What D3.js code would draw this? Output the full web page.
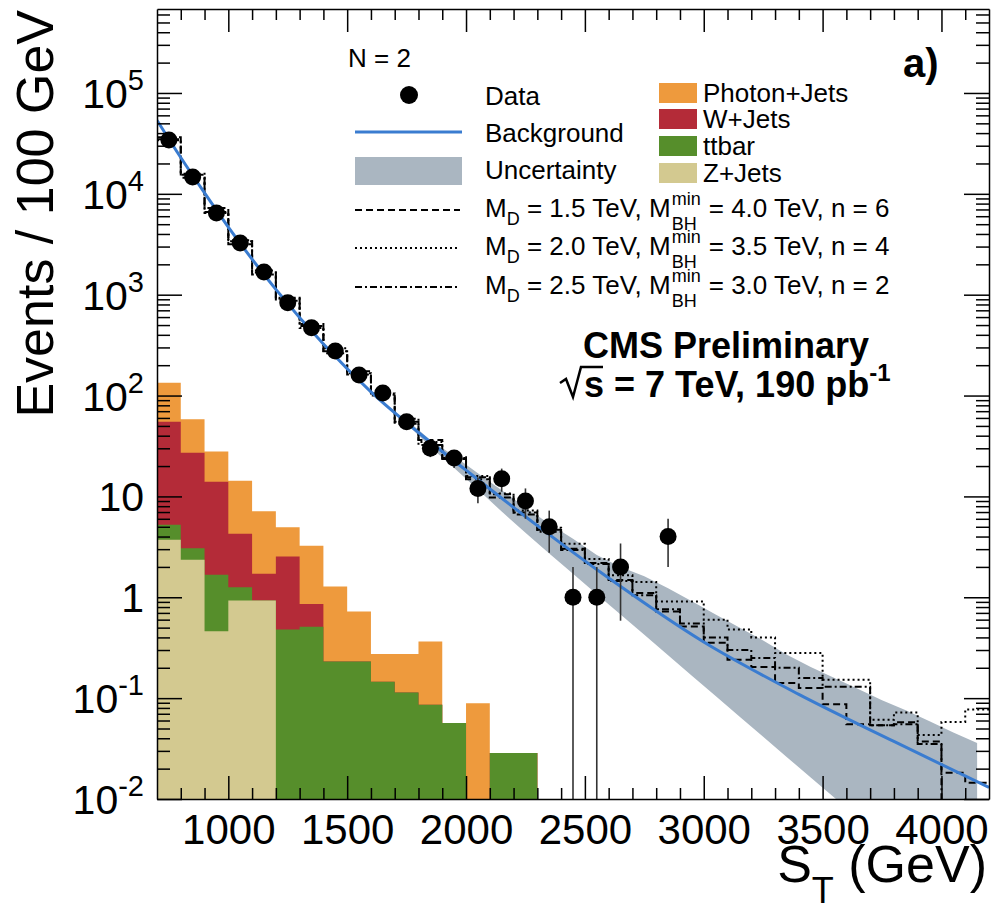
<!DOCTYPE html>
<html><head><meta charset="utf-8">
<script src="https://cdn.jsdelivr.net/npm/d3@7"></script>
<style>
body{margin:0;background:#fff}
text{font-family:"Liberation Sans",Arial,Helvetica,sans-serif}
</style>
</head><body>
<svg id="c" width="992" height="909"></svg>
<script>
// ---------------- data ----------------
const binLow = [700,800,900,1000,1100,1200,1300,1400,1500,1600,1700,1800,1900,2000,2100,2200,2300,2400,2500,2600,2700,2800,2900,3000,3100,3200,3300,3400,3500,3600,3700,3800,3900,4000,4100];
const binWidth = 100;
// stacked backgrounds (bins 700..2300)
const photonJets = [79,31,13.9,10.0,5.4,2.42,2.38,1.05,0.49,0.129,0.16,0.279,0,0.089,0,0];
const wJets      = [49.8,24.1,12.3,3.0,0.78,2.06,0.35,0,0,0,0,0,0,0,0,0];
const ttbar      = [1.52,0.72,1.21,0.33,0,0.48,0.51,0.231,0.231,0.145,0.114,0.086,0.0566,0,0.0286,0.0286];
const zJets      = [3.71,2.35,0.46,0.93,0.93,0,0,0,0,0,0,0,0,0,0,0];
// data counts (bins 700..2800)
const dataCounts = [34200,14700,6470,3260,1680,830,469,277,160,106,55,30,24,12,15,9,5,1,1,2,0,4];
// background fit curve samples
const bgST  = [700,800,900,1000,1200,1400,1600,1800,2000,2300,2600,3000,3400,3800,4200];
const bgVal = [53700,22900,10200,4680,1130,324,109,43,18.2,5.13,1.55,0.36,0.109,0.0372,0.013];
// uncertainty band at bin centres
const bandST    = [1750,1850,1950,2050,2150,2250,2350,2450,2550,2650,2750,2850,2950,3050,3150,3250,3350,3450,3550,3650,3750,3850,3950,4050,4150];
const bandUpper = [57.5,36.3,25.1,17.0,11.5,7.76,5.37,3.80,2.63,2.00,1.62,1.23,0.912,0.676,0.501,0.372,0.269,0.204,0.158,0.123,0.0955,0.0759,0.0589,0.0457,0.0359];
const bandLower = [52.5,30.9,19.1,11.7,7.08,4.37,2.72,1.71,1.07,0.675,0.424,0.266,0.167,0.105,0.0659,0.0414,0.026,0.0163,0.0103,0.0065,0.0041,0.0026,0.0016,0.001,0.00065];
// signal + background histograms
const sigMD15 = [36300,14400,7250,3170,1740,871,513,263,174,100,52.5,36.3,23.5,14.8,10.5,6.6,4.68,3.02,2.19,1.48,1.10,0.724,0.513,0.355,0.240,0.204,0.141,0.126,0.087,0.055,0.0538,0.0576,0.0371,0.0182,0.0145];
const sigMD20 = [33900,15800,6460,3470,1660,912,468,295,166,102,59,34.7,24.5,15.9,10.7,7.24,4.9,3.39,2.40,1.65,1.42,0.91,0.91,0.60,0.48,0.40,0.28,0.28,0.152,0.152,0.061,0.072,0.043,0.058,0.077];
const sigMD25 = [34700,15450,6600,3390,1585,934,490,275,162,105,55,32.4,24,15.5,9.77,6.92,4.47,2.95,2.14,1.45,1.05,0.76,0.55,0.40,0.30,0.25,0.20,0.158,0.13,0.13,0.054,0.055,0.035,0,0];
// ticks
const xMajor = [1000,1500,2000,2500,3000,3500,4000];
const yMajor = [0.01,0.1,1,10,100,1000,1e4,1e5];
const yLabels = [["10","-2"],["10","-1"],["1",""],["10",""],["10","2"],["10","3"],["10","4"],["10","5"]];

// ---------------- layout ----------------
const L=157,R=989,T=9,B=799;
const svg = d3.select('#c');
const x = d3.scaleLinear().domain([700,4200]).range([L,R]);
const y = d3.scaleLog().domain([0.01,6.8e5]).range([B,T]);
const yv = v => v>0 ? y(v) : B+50;

svg.append('defs').append('clipPath').attr('id','clip')
  .append('rect').attr('x',L).attr('y',T).attr('width',R-L).attr('height',B-T);
const plot = svg.append('g').attr('clip-path','url(#clip)');

// stacked histograms (drawn cumulatively, top layer first)
const rows = photonJets.map((_,i)=>({zJets:zJets[i],ttbar:ttbar[i],wJets:wJets[i],photonJets:photonJets[i]}));
const keys = ['zJets','ttbar','wJets','photonJets'];
const colors = {photonJets:'#EE9A3D',wJets:'#B42B38',ttbar:'#568E2B',zJets:'#D3C990'};
const stacked = d3.stack().keys(keys)(rows);
const stepArea = d3.area().curve(d3.curveStepAfter).x(d=>x(d.x)).y0(B+50).y1(d=>yv(d.v));
stacked.slice().reverse().forEach(layer=>{
  const pts = layer.map((d,i)=>({x:binLow[i], v:d[1]}));
  pts.push({x:binLow[layer.length-1]+binWidth, v:layer[layer.length-1][1]});
  plot.append('path').attr('d',stepArea(pts)).attr('fill',colors[layer.key]).attr('stroke','none');
});

// uncertainty band
const band = bandST.map((s,i)=>({s,u:bandUpper[i],l:bandLower[i]}));
plot.append('path')
  .attr('d',d3.area().x(d=>x(d.s)).y0(d=>y(d.l)).y1(d=>y(d.u))(band))
  .attr('fill','#AAB6C1');

// signal histograms
const stepLine = d3.line().curve(d3.curveStepAfter).x(d=>x(d.x)).y(d=>yv(d.v));
function drawSig(vals, dash){
  const pts = vals.map((v,i)=>({x:binLow[i],v}));
  pts.push({x:binLow[vals.length-1]+binWidth, v:vals[vals.length-1]});
  plot.append('path').attr('d',stepLine(pts)).attr('fill','none')
    .attr('stroke','#000').attr('stroke-width',2).attr('stroke-dasharray',dash);
}
drawSig(sigMD20,'2,3');
drawSig(sigMD25,'7,3,2,3');
drawSig(sigMD15,'7,4');

// background curve
plot.append('path')
  .attr('d',d3.line().curve(d3.curveMonotoneX).x((d,i)=>x(bgST[i])).y(d=>y(d))(bgVal))
  .attr('fill','none').attr('stroke','#3A7CD0').attr('stroke-width',3);

// data
const dataPts = dataCounts.map((n,i)=>({x:binLow[i]+binWidth/2, n})).filter(d=>d.n>0);
plot.selectAll('line.err').data(dataPts).enter().append('line')
  .attr('x1',d=>x(d.x)).attr('x2',d=>x(d.x))
  .attr('y1',d=>yv(d.n+Math.sqrt(d.n))).attr('y2',d=>yv(d.n-Math.sqrt(d.n)))
  .attr('stroke','#333').attr('stroke-width',1.6);
plot.selectAll('circle.pt').data(dataPts).enter().append('circle')
  .attr('cx',d=>x(d.x)).attr('cy',d=>y(d.n)).attr('r',8.5).attr('fill','#000');

// ---------------- axes ----------------
const xMinor = binLow.filter(v=>v>700 && !xMajor.includes(v));
const yMinor = [];
yMajor.forEach(m=>{ for(let k=2;k<=9;k++){ const v=m*k; if(v<6.8e5) yMinor.push(v);} });
function styleAxis(g){
  g.selectAll('line,path').attr('stroke','#000').attr('stroke-width',1.5);
  g.attr('font-family','Liberation Sans, Arial, sans-serif');
}
const ax = svg.append('g');
ax.append('g').attr('transform',`translate(0,${B})`)
  .call(d3.axisBottom(x).tickValues(xMajor).tickSize(-23).tickSizeOuter(0).tickPadding(15).tickFormat(d3.format('d')))
  .call(styleAxis).call(g=>g.attr('font-size',42).selectAll('text').attr('fill','#000'));
ax.append('g').attr('transform',`translate(0,${B})`)
  .call(d3.axisBottom(x).tickValues(xMinor).tickSize(-11).tickSizeOuter(0).tickFormat(''))
  .call(styleAxis).call(g=>g.select('.domain').remove());
ax.append('g').attr('transform',`translate(0,${T})`)
  .call(d3.axisTop(x).tickValues(xMajor).tickSize(-23).tickSizeOuter(0).tickFormat(''))
  .call(styleAxis);
ax.append('g').attr('transform',`translate(0,${T})`)
  .call(d3.axisTop(x).tickValues(xMinor).tickSize(-11).tickSizeOuter(0).tickFormat(''))
  .call(styleAxis).call(g=>g.select('.domain').remove());
ax.append('g').attr('transform',`translate(${L},0)`)
  .call(d3.axisLeft(y).tickValues(yMajor).tickSize(-25).tickSizeOuter(0).tickFormat(''))
  .call(styleAxis);
ax.append('g').attr('transform',`translate(${L},0)`)
  .call(d3.axisLeft(y).tickValues(yMinor).tickSize(-13).tickSizeOuter(0).tickFormat(''))
  .call(styleAxis).call(g=>g.select('.domain').remove());
ax.append('g').attr('transform',`translate(${R},0)`)
  .call(d3.axisRight(y).tickValues(yMajor).tickSize(-25).tickSizeOuter(0).tickFormat(''))
  .call(styleAxis);
ax.append('g').attr('transform',`translate(${R},0)`)
  .call(d3.axisRight(y).tickValues(yMinor).tickSize(-13).tickSizeOuter(0).tickFormat(''))
  .call(styleAxis).call(g=>g.select('.domain').remove());

// y tick labels
yMajor.forEach((v,i)=>{
  const t = svg.append('text').attr('x',144).attr('y',y(v)+15).attr('text-anchor','end').attr('font-size',41).attr('fill','#000');
  t.append('tspan').text(yLabels[i][0]);
  if(yLabels[i][1]) t.append('tspan').attr('font-size',29).attr('dy',-18).text(yLabels[i][1]);
});

// axis titles
svg.append('text').attr('transform','translate(53,10) rotate(-90)').attr('text-anchor','end')
  .attr('font-size',52).text('Events / 100 GeV');
const xt = svg.append('text').attr('x',987).attr('y',882).attr('text-anchor','end').attr('font-size',52);
xt.append('tspan').text('S');
xt.append('tspan').attr('font-size',36).attr('dy',21).text('T');
xt.append('tspan').attr('dy',-21).text('\u00a0(GeV)');

// ---------------- legend ----------------
const lg = svg.append('g').attr('font-size',26).attr('fill','#000');
lg.append('text').attr('x',348).attr('y',67).text('N = 2');
lg.append('circle').attr('cx',409).attr('cy',95).attr('r',9).attr('fill','#000');
lg.append('text').attr('x',485).attr('y',105).text('Data');
lg.append('line').attr('x1',355).attr('x2',462).attr('y1',132).attr('y2',132).attr('stroke','#3A7CD0').attr('stroke-width',3);
lg.append('text').attr('x',485).attr('y',142).text('Background');
lg.append('rect').attr('x',355).attr('y',157).attr('width',107).attr('height',28).attr('fill','#AAB6C1');
lg.append('text').attr('x',485).attr('y',179).text('Uncertainty');

const sigLegend = [
  {y:210, dash:'7,4', md:'1.5', mbh:'4.0', n:'6'},
  {y:248, dash:'2,3', md:'2.0', mbh:'3.5', n:'4'},
  {y:287, dash:'7,3,2,3', md:'2.5', mbh:'3.0', n:'2'}
];
sigLegend.forEach(s=>{
  lg.append('line').attr('x1',355).attr('x2',460).attr('y1',s.y).attr('y2',s.y)
    .attr('stroke','#000').attr('stroke-width',2).attr('stroke-dasharray',s.dash);
  const yb = s.y+7;
  const t = lg.append('text').attr('x',485).attr('y',yb);
  t.append('tspan').text('M');
  t.append('tspan').attr('font-size',18).attr('dy',8).text('D');
  t.append('tspan').attr('dy',-8).text(` = ${s.md} TeV, M`);
  const xs = 485 + t.node().getComputedTextLength() + 1;
  const sup = lg.append('text').attr('x',xs).attr('y',yb-12).attr('font-size',18).text('min');
  lg.append('text').attr('x',xs).attr('y',yb+13).attr('font-size',18).text('BH');
  const xr = xs + sup.node().getComputedTextLength() + 8;
  lg.append('text').attr('x',xr).attr('y',yb).text(`= ${s.mbh} TeV, n = ${s.n}`);
});

const stackLegend = [
  {k:'photonJets', label:'Photon+Jets', y:83},
  {k:'wJets', label:'W+Jets', y:109},
  {k:'ttbar', label:'ttbar', y:136},
  {k:'zJets', label:'Z+Jets', y:163}
];
stackLegend.forEach(s=>{
  lg.append('rect').attr('x',659).attr('y',s.y).attr('width',38).attr('height',20).attr('fill',colors[s.k]);
  lg.append('text').attr('x',703).attr('y',s.y+19).text(s.label);
});

// labels
svg.append('text').attr('x',903).attr('y',77).attr('font-size',40).attr('font-weight','bold').text('a)');
svg.append('text').attr('x',583).attr('y',358).attr('font-size',36).attr('font-weight','bold').text('CMS Preliminary');
svg.append('path').attr('d','M560,383 L566,379 L573,397 L581,367 L603,367')
  .attr('fill','none').attr('stroke','#000').attr('stroke-width',2.5);
const lum = svg.append('text').attr('x',584).attr('y',397).attr('font-size',36).attr('font-weight','bold');
lum.append('tspan').text('s = 7 TeV, 190 pb');
lum.append('tspan').attr('font-size',24).attr('dy',-16).text('-1');
</script>
</body></html>
